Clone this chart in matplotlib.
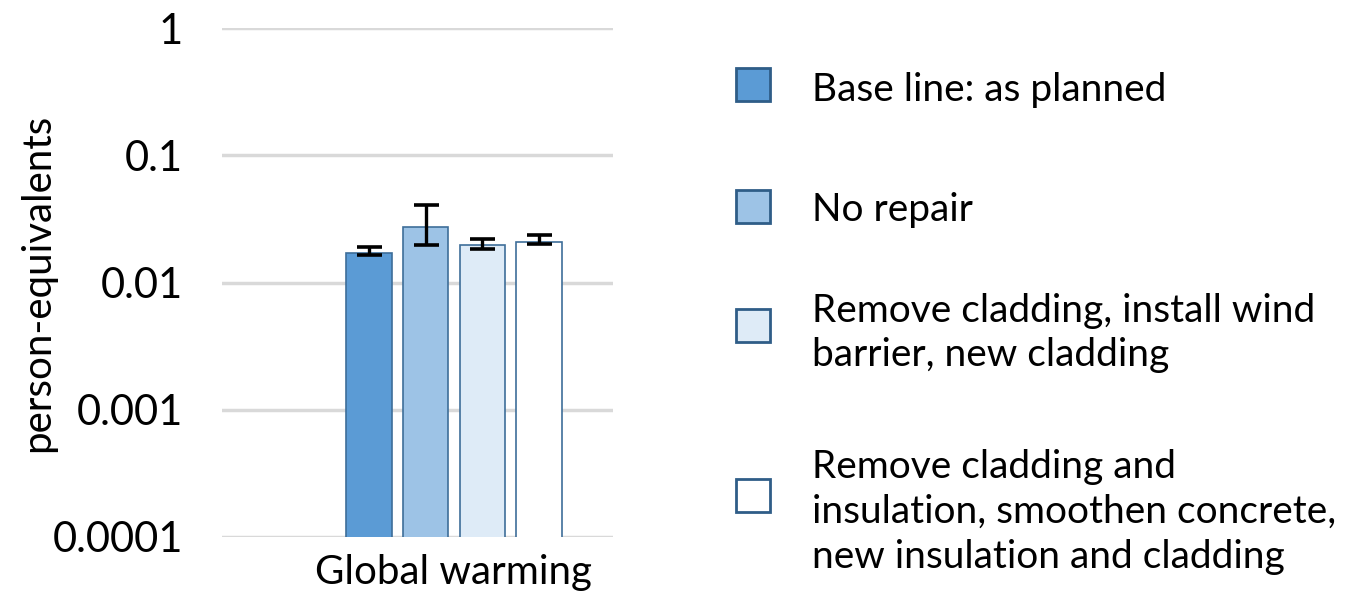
import numpy as np
import matplotlib.pyplot as plt
from matplotlib import ticker
from matplotlib.patches import Rectangle

plt.rcParams['font.family'] = ['Lato', 'DejaVu Sans']

scenarios = ['Base line: as planned',
             'No repair',
             'Remove cladding, install wind\nbarrier, new cladding',
             'Remove cladding and\ninsulation, smoothen concrete,\nnew insulation and cladding']
category = 'Global warming'
values = [0.0170, 0.0272, 0.0197, 0.0208]
err_lo = [0.0163, 0.0196, 0.0185, 0.0200]
err_hi = [0.0189, 0.0404, 0.0218, 0.0237]
colors = ['#5B9BD5', '#9DC3E6', '#DEEBF7', '#FFFFFF']
edge = '#3E6E99'
yticks = [0.0001, 0.001, 0.01, 0.1, 1]
ylabels = ['0.0001', '0.001', '0.01', '0.1', '1']

W, H = 1345, 613
fig = plt.figure(figsize=(W / 100, H / 100), dpi=100)
ax = fig.add_axes([222 / W, 1 - 537 / H, 391 / W, 509 / H])

x = np.arange(len(values)) - 1.5
lo = np.array(values) - np.array(err_lo)
hi = np.array(err_hi) - np.array(values)
ax.bar(x, values, width=0.8, color=colors, edgecolor=edge, linewidth=1.2, zorder=3)
ax.errorbar(x, values, yerr=[lo, hi], fmt='none', ecolor='black',
            elinewidth=2.4, capsize=9, capthick=2.6, zorder=4)

ax.set_yscale('log')
ax.set_ylim(1e-4, 1)
ax.set_xlim(-4.1, 2.81)
ax.yaxis.set_major_locator(ticker.FixedLocator(yticks))
ax.yaxis.set_minor_locator(ticker.NullLocator())
ax.set_yticklabels(ylabels)
ax.set_xticks([0])
ax.set_xticklabels([category])
ax.tick_params(axis='both', length=0, colors='black')
ax.tick_params(axis='y', labelsize=30, pad=28)
ax.tick_params(axis='x', labelsize=29, pad=12)
for s in ax.spines.values():
    s.set_visible(False)
ax.grid(axis='y', color='#D9D9D9', linewidth=2.5, zorder=0)
ax.set_ylabel('person-equivalents', fontsize=29)
ax.yaxis.set_label_coords(-0.425, 0.5)

# legend drawn by hand so each entry sits where its text block needs it
box_y = [84, 206, 326, 495]
text_y = [90, 210, 333, 512]
for c, label, by, ty in zip(colors, scenarios, box_y, text_y):
    fig.add_artist(Rectangle((736 / W, 1 - (by + 16.5) / H), 34 / W, 33 / H,
                             transform=fig.transFigure, facecolor=c,
                             edgecolor='#2F5D87', linewidth=2))
    fig.text(812 / W, 1 - ty / H, label, fontsize=28, va='center', ha='left',
             linespacing=1.3)

plt.savefig('out.png', dpi=100)
